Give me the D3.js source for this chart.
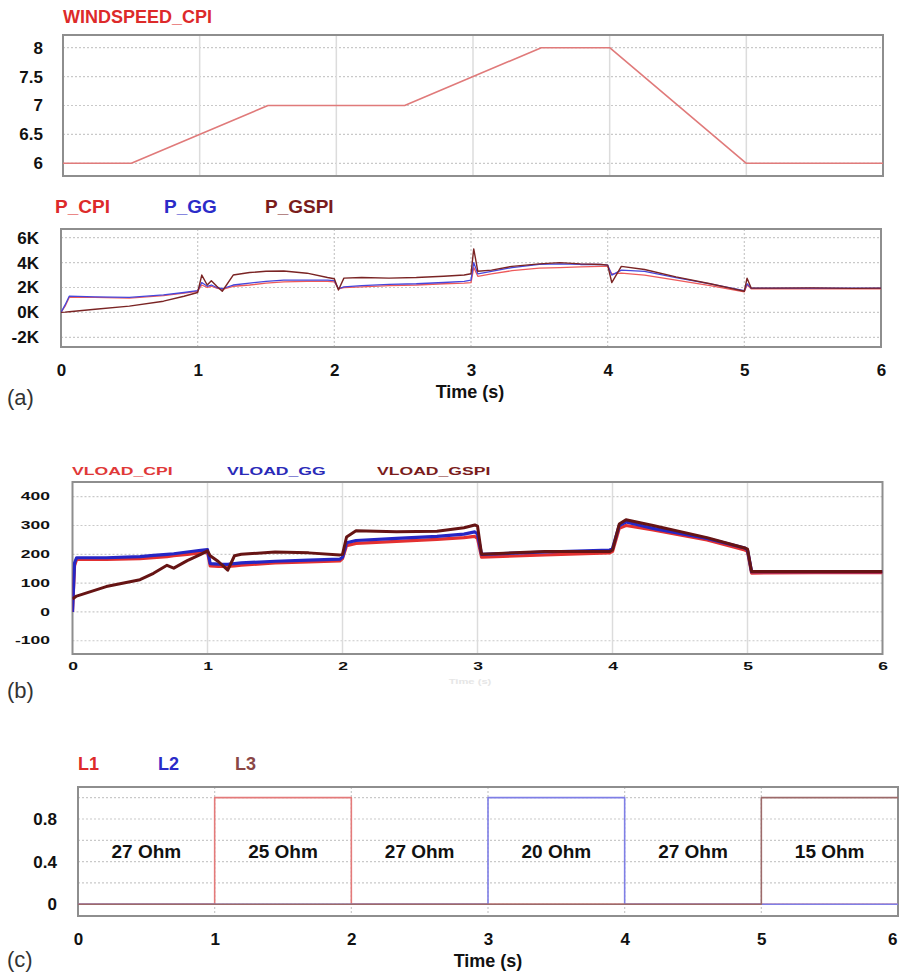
<!DOCTYPE html>
<html><head><meta charset="utf-8">
<script src="https://cdn.jsdelivr.net/npm/d3@7"></script>
<style>
body{margin:0;background:#fff}
svg{display:block;font-family:"Liberation Sans",Arial,sans-serif}
</style>
</head><body>
<svg id="chart" width="899" height="978"></svg>
<script>
// ---------------- data ----------------
const timeTicks = [0, 1, 2, 3, 4, 5, 6];

const windTime  = [0, 0.5, 1.5, 2.5, 3.5, 4, 5, 6];
const windSpeed = [6, 6, 7, 7, 8, 8, 6, 6];
const windTicks = [6, 6.5, 7, 7.5, 8];

const powerTime = [0, 0.03, 0.06, 0.25, 0.5, 0.75, 0.9, 1.0, 1.03, 1.07, 1.1, 1.14, 1.18, 1.26, 1.38, 1.5, 1.63, 1.8, 1.95, 2.0, 2.03, 2.07, 2.2, 2.4, 2.6, 2.8, 2.95, 3.0, 3.02, 3.05, 3.15, 3.3, 3.5, 3.65, 3.8, 3.95, 4.0, 4.03, 4.1, 4.27, 4.5, 4.75, 5.0, 5.02, 5.05, 5.2, 5.5, 5.8, 6.0];
const pCPI  = [0, 0.5, 1.2, 1.2, 1.15, 1.35, 1.55, 1.7, 2.2, 2.0, 2.1, 1.95, 1.85, 2.1, 2.2, 2.35, 2.45, 2.5, 2.5, 2.45, 1.9, 2.0, 2.05, 2.15, 2.2, 2.3, 2.35, 2.4, 3.6, 2.9, 3.1, 3.35, 3.55, 3.6, 3.65, 3.7, 3.7, 3.1, 3.15, 3.0, 2.6, 2.15, 1.65, 2.2, 1.9, 1.9, 1.9, 1.9, 1.9];
const pGG   = [0, 0.6, 1.3, 1.25, 1.2, 1.4, 1.6, 1.75, 2.4, 2.1, 2.2, 2.0, 1.9, 2.2, 2.35, 2.5, 2.6, 2.6, 2.6, 2.55, 1.9, 2.05, 2.15, 2.25, 2.3, 2.4, 2.5, 2.6, 4.0, 3.1, 3.3, 3.6, 3.85, 3.9, 3.85, 3.85, 3.8, 3.0, 3.4, 3.3, 2.8, 2.3, 1.75, 2.3, 1.95, 1.95, 1.95, 1.95, 1.95];
const pGSPI = [0, 0.02, 0.05, 0.25, 0.5, 0.9, 1.3, 1.6, 3.0, 2.2, 2.55, 2.1, 1.7, 3.0, 3.2, 3.3, 3.33, 3.15, 2.8, 2.7, 1.8, 2.75, 2.8, 2.75, 2.8, 2.9, 3.0, 3.1, 5.1, 3.3, 3.4, 3.7, 3.9, 4.0, 3.9, 3.85, 3.8, 2.4, 3.7, 3.45, 2.85, 2.3, 1.7, 2.75, 1.95, 1.95, 1.97, 1.93, 1.95];
const powerTicks = [-2, 0, 2, 4, 6];
const powerNames = ["P_CPI", "P_GG", "P_GSPI"];

const vTime  = [0, 0.015, 0.03, 0.25, 0.5, 0.6, 0.7, 0.75, 0.85, 0.95, 1.0, 1.02, 1.08, 1.15, 1.2, 1.25, 1.5, 1.75, 1.98, 2.0, 2.03, 2.1, 2.4, 2.7, 2.9, 2.98, 3.0, 3.03, 3.5, 3.98, 4.0, 4.05, 4.1, 4.3, 4.7, 4.98, 5.0, 5.03, 5.5, 6.0];
const vCPI   = [0, 160, 182, 182, 185, 188, 192, 195, 200, 205, 208, 160, 158, 158, 160, 162, 170, 174, 177, 185, 230, 238, 245, 252, 258, 262, 255, 190, 198, 205, 210, 290, 300, 285, 250, 215, 210, 135, 136, 136];
const vGG    = [0, 170, 188, 188, 192, 196, 200, 202, 208, 214, 216, 168, 166, 165, 168, 170, 176, 180, 183, 190, 240, 248, 255, 262, 270, 278, 270, 200, 208, 215, 220, 300, 312, 290, 255, 222, 215, 140, 140, 140];
const vGSPI  = [45, 50, 55, 88, 112, 134, 162, 152, 178, 200, 212, 195, 175, 145, 195, 200, 208, 205, 198, 200, 260, 282, 278, 280, 292, 302, 298, 200, 210, 210, 215, 305, 320, 300, 258, 222, 218, 140, 140, 140];
const vTicks = [-100, 0, 100, 200, 300, 400];
const vNames = ["VLOAD_CPI", "VLOAD_GG", "VLOAD_GSPI"];

const loadTime = [0, 1, 1, 2, 2, 3, 3, 4, 4, 5, 5, 6];
const L1 = [0, 0, 1, 1, 0, 0, 0, 0, 0, 0, 0, 0];
const L2 = [0, 0, 0, 0, 0, 0, 1, 1, 0, 0, 0, 0];
const L3 = [0, 0, 0, 0, 0, 0, 0, 0, 0, 0, 1, 1];
const loadTicks = [0, 0.4, 0.8];
const loadGrid = [0, 0.2, 0.4, 0.6, 0.8, 1.0];
const loadNames = ["L1", "L2", "L3"];
const loadLabels = ["27 Ohm", "25 Ohm", "27 Ohm", "20 Ohm", "27 Ohm", "15 Ohm"];
const loadLabelTime = [0.5, 1.5, 2.5, 3.5, 4.5, 5.5];
const loadLabelLevel = [0.5, 0.5, 0.5, 0.5, 0.5, 0.5];

// ---------------- helpers ----------------
const svg = d3.select("#chart");
const FONT = '"Liberation Sans", Arial, sans-serif';
let clipId = 0;

function frame(x, y, gridY, vStyle) {
  const [x0, x1] = x.range();
  const [y1, y0] = y.range();
  const g = svg.append("g");
  g.selectAll(".gy").data(gridY).join("line")
    .attr("x1", x0).attr("x2", x1)
    .attr("y1", d => y(d)).attr("y2", d => y(d))
    .attr("stroke", "#c9c9c9").attr("stroke-width", 1.2).attr("stroke-dasharray", "2,2");
  g.selectAll(".gx").data(timeTicks.slice(1, -1)).join("line")
    .attr("x1", d => x(d)).attr("x2", d => x(d))
    .attr("y1", y0).attr("y2", y1)
    .attr("stroke", vStyle === "solid" ? "#dcdcdc" : "#c9c9c9")
    .attr("stroke-width", vStyle === "solid" ? 1.5 : 1.2)
    .attr("stroke-dasharray", vStyle === "solid" ? null : "2,2");
  g.append("rect").attr("x", x0).attr("y", y0).attr("width", x1 - x0).attr("height", y1 - y0)
    .attr("fill", "none").attr("stroke", "#8e8e8e").attr("stroke-width", 2);
  const id = "clip" + (clipId++);
  svg.append("clipPath").attr("id", id).append("rect")
    .attr("x", x0).attr("y", y0).attr("width", x1 - x0).attr("height", y1 - y0);
  return svg.append("g").attr("clip-path", `url(#${id})`);
}

function drawLine(g, x, y, times, vals, color, width) {
  g.append("path").datum(d3.zip(times, vals))
    .attr("fill", "none").attr("stroke", color).attr("stroke-width", width)
    .attr("stroke-linejoin", "round")
    .attr("d", d3.line().x(d => x(d[0])).y(d => y(d[1])));
}

function yAxis(y, ticks, xPos, rightEdge, fmt, size, sx) {
  const g = svg.append("g").attr("transform", `translate(${xPos},0)`)
    .call(d3.axisLeft(y).tickValues(ticks).tickSize(0).tickPadding(xPos - rightEdge).tickFormat(fmt));
  g.select(".domain").remove();
  g.attr("font-family", FONT).attr("font-size", size).attr("font-weight", "bold");
  g.selectAll("text").attr("fill", "#111");
  if (sx) {
    g.selectAll("text").attr("x", -(xPos - rightEdge) / sx).attr("transform", `scale(${sx},1)`);
  }
  return g;
}

function xAxis(x, yPos, baseline, size, sx, lastRightEdge) {
  const g = svg.append("g").attr("transform", `translate(0,${yPos})`)
    .call(d3.axisBottom(x).tickValues(timeTicks).tickSize(0).tickFormat(d3.format("d")));
  g.select(".domain").remove();
  g.attr("font-family", FONT).attr("font-size", size).attr("font-weight", "bold");
  g.selectAll("text").attr("fill", "#111").attr("y", baseline - yPos).attr("dy", null);
  if (sx) g.selectAll("text").attr("transform", `scale(${sx},1)`);
  if (lastRightEdge !== undefined) {
    const last = timeTicks[timeTicks.length - 1];
    g.selectAll(".tick").filter(d => d === last).select("text")
      .attr("text-anchor", "end").attr("x", lastRightEdge - x(last));
  }
  return g;
}

function label(txt, x, y, opts) {
  const o = Object.assign({size: 18, weight: "bold", fill: "#111", anchor: "start", sx: 1}, opts || {});
  svg.append("text").attr("transform", `translate(${x},${y}) scale(${o.sx},1)`)
    .attr("font-family", FONT).attr("font-size", o.size).attr("font-weight", o.weight)
    .attr("fill", o.fill).attr("text-anchor", o.anchor).text(txt);
}

const RED = "#dd2a2a", BLUE = "#2b2bc8", DRED = "#7a1c1c";

// ---------------- panel (a) top: wind speed ----------------
{
  const x = d3.scaleLinear().domain([0, 6]).range([63, 883]);
  const y = d3.scaleLinear().domain([5.78, 8.22]).range([176, 35]);
  const g = frame(x, y, windTicks, "solid");
  drawLine(g, x, y, windTime, windSpeed, "#e07a7a", 1.6);
  yAxis(y, windTicks, 63, 43, d => String(d), 17);
  label("WINDSPEED_CPI", 63, 23, {size: 18, fill: RED});
}

// ---------------- panel (a) bottom: power ----------------
{
  const x = d3.scaleLinear().domain([0, 6]).range([61, 881]);
  const y = d3.scaleLinear().domain([-2.78, 6.7]).range([347, 229]);
  const g = frame(x, y, powerTicks, "dotted");
  drawLine(g, x, y, powerTime, pCPI, "#ee5a5a", 1.3);
  drawLine(g, x, y, powerTime, pGG, "#4646dc", 1.3);
  drawLine(g, x, y, powerTime, pGSPI, "#7a2424", 1.4);
  yAxis(y, powerTicks, 61, 39, d => d + "K", 17);
  xAxis(x, 347, 376, 17);
  const lx = [55, 164, 265], cols = [RED, BLUE, DRED];
  powerNames.forEach((n, i) => label(n, lx[i], 213, {size: 19, fill: cols[i]}));
  label("Time (s)", 470, 398, {size: 18, anchor: "middle"});
  label("(a)", 7, 405, {size: 22, weight: "normal", fill: "#333"});
}

// ---------------- panel (b): load voltage ----------------
{
  const x = d3.scaleLinear().domain([0, 6]).range([72.5, 882.5]);
  const y = d3.scaleLinear().domain([-146, 451]).range([654, 482]);
  const g = frame(x, y, vTicks, "solid");
  drawLine(g, x, y, vTime, vCPI, "#e43030", 3.2);
  drawLine(g, x, y, vTime, vGG, "#2626c4", 3.2);
  drawLine(g, x, y, vTime, vGSPI, "#661414", 3.0);
  yAxis(y, vTicks, 72.5, 50, d => String(d), 10, 1.75);
  xAxis(x, 654, 670, 10, 1.75);
  const lx = [72, 227, 377], cols = ["#e03838", "#2a2ab8", "#7a1c1c"];
  vNames.forEach((n, i) => label(n, lx[i], 475, {size: 11, fill: cols[i], sx: 1.6}));
  label("Time (s)", 470, 684, {size: 7, fill: "#e6e6e6", anchor: "middle", sx: 1.6});
  label("(b)", 7, 698, {size: 22, weight: "normal", fill: "#333"});
}

// ---------------- panel (c): load steps ----------------
{
  const x = d3.scaleLinear().domain([0, 6]).range([78, 898]);
  const y = d3.scaleLinear().domain([-0.11, 1.1]).range([916, 787]);
  const g = frame(x, y, loadGrid, "dotted");
  drawLine(g, x, y, loadTime, L1, "#e47a7a", 1.6);
  drawLine(g, x, y, loadTime, L2, "#7f7fe6", 1.6);
  drawLine(g, x, y, loadTime, L3, "#9c6a6a", 1.6);
  yAxis(y, loadTicks, 78, 57, d => String(d), 17);
  xAxis(x, 916, 945, 17, undefined, 897);
  svg.append("g").selectAll("text").data(loadLabels).join("text")
    .attr("x", (d, i) => x(loadLabelTime[i])).attr("y", (d, i) => y(loadLabelLevel[i]))
    .attr("dy", "0.35em").attr("text-anchor", "middle")
    .attr("font-family", FONT).attr("font-size", 19).attr("font-weight", "bold").attr("fill", "#111")
    .text(d => d);
  const lx = [78, 158, 235], cols = [RED, BLUE, "#8a4646"];
  loadNames.forEach((n, i) => label(n, lx[i], 770, {size: 18, fill: cols[i]}));
  label("Time (s)", 488, 967, {size: 18, anchor: "middle"});
  label("(c)", 7, 967, {size: 22, weight: "normal", fill: "#333"});
}
</script>
</body></html>
